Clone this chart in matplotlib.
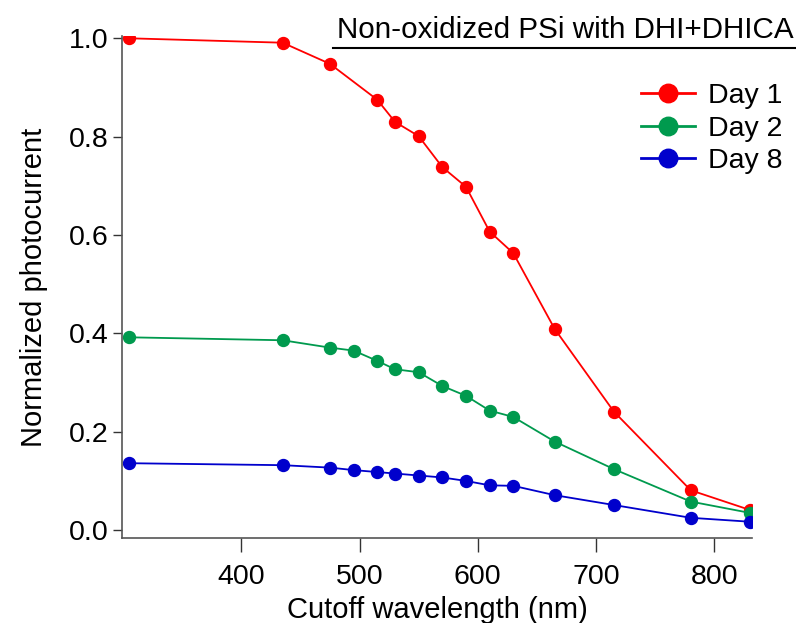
# Normalized photocurrent vs cutoff wavelength for non-oxidized PSi with DHI+DHICA
import matplotlib
matplotlib.use("Agg")
import matplotlib.pyplot as plt
from matplotlib.lines import Line2D

plt.rcParams["font.family"] = ["Liberation Sans", "DejaVu Sans"]

# data
wl_day1 = [305, 435, 475, 515, 530, 550, 570, 590, 610, 630, 665, 715, 780, 830]
day1 = [1.000, 0.991, 0.948, 0.875, 0.830, 0.801, 0.738, 0.698, 0.607, 0.563, 0.409, 0.241, 0.081, 0.041]
wl = [305, 435, 475, 495, 515, 530, 550, 570, 590, 610, 630, 665, 715, 780, 830]
day2 = [0.392, 0.386, 0.371, 0.365, 0.344, 0.327, 0.321, 0.293, 0.273, 0.243, 0.230, 0.180, 0.124, 0.058, 0.035]
day8 = [0.136, 0.132, 0.127, 0.122, 0.118, 0.115, 0.111, 0.107, 0.100, 0.091, 0.090, 0.071, 0.051, 0.025, 0.017]
x_ticks = [400, 500, 600, 700, 800]
y_ticks = [0.0, 0.2, 0.4, 0.6, 0.8, 1.0]

fs = 20.5

fig = plt.figure(figsize=(7.96, 6.23), dpi=100)
ax = fig.add_axes([0.153, 0.1365, 0.792, 0.806])

ax.plot(wl_day1, day1, color="#ff0000", marker="o", markersize=8.6, linewidth=1.3, label="Day 1")
ax.plot(wl, day2, color="#009a4e", marker="o", markersize=8.6, linewidth=1.3, label="Day 2")
ax.plot(wl, day8, color="#0000cc", marker="o", markersize=8.6, linewidth=1.3, label="Day 8")

ax.set_xlim(299, 832)
ax.set_ylim(-0.016, 1.005)
ax.set_xticks(x_ticks)
ax.set_yticks(y_ticks)
ax.set_yticklabels([f"{v:.1f}" for v in y_ticks])

for side in ["top", "right"]:
    ax.spines[side].set_visible(False)
for side in ["left", "bottom"]:
    ax.spines[side].set_color("#555555")
    ax.spines[side].set_linewidth(1.2)
ax.tick_params(axis="x", direction="out", length=10, width=1, color="#333333", labelsize=fs, pad=9)
ax.tick_params(axis="y", direction="out", length=6.5, width=1, color="#333333", labelsize=fs, pad=3)

ax.set_xlabel("Cutoff wavelength (nm)", fontsize=21, labelpad=4)
ax.set_ylabel("Normalized photocurrent", fontsize=21, labelpad=15)

leg = ax.legend(loc="upper left", bbox_to_anchor=(627 / 796, 1 - 69 / 623),
                bbox_transform=fig.transFigure, frameon=False, fontsize=fs, borderpad=0,
                handlelength=1.9, handletextpad=0.45, labelspacing=0.22, markerscale=1.55)
for h in leg.get_lines():
    h.set_linewidth(2)

# title with an underline
fig.text(337 / 796, 1 - 38 / 623, "Non-oxidized PSi with DHI+DHICA", fontsize=21.3, ha="left", va="baseline")
fig.add_artist(Line2D([333 / 796, 1.0], [1 - 47.5 / 623, 1 - 47.5 / 623], color="black", linewidth=1.5))

fig.savefig("out.png", dpi=100)
